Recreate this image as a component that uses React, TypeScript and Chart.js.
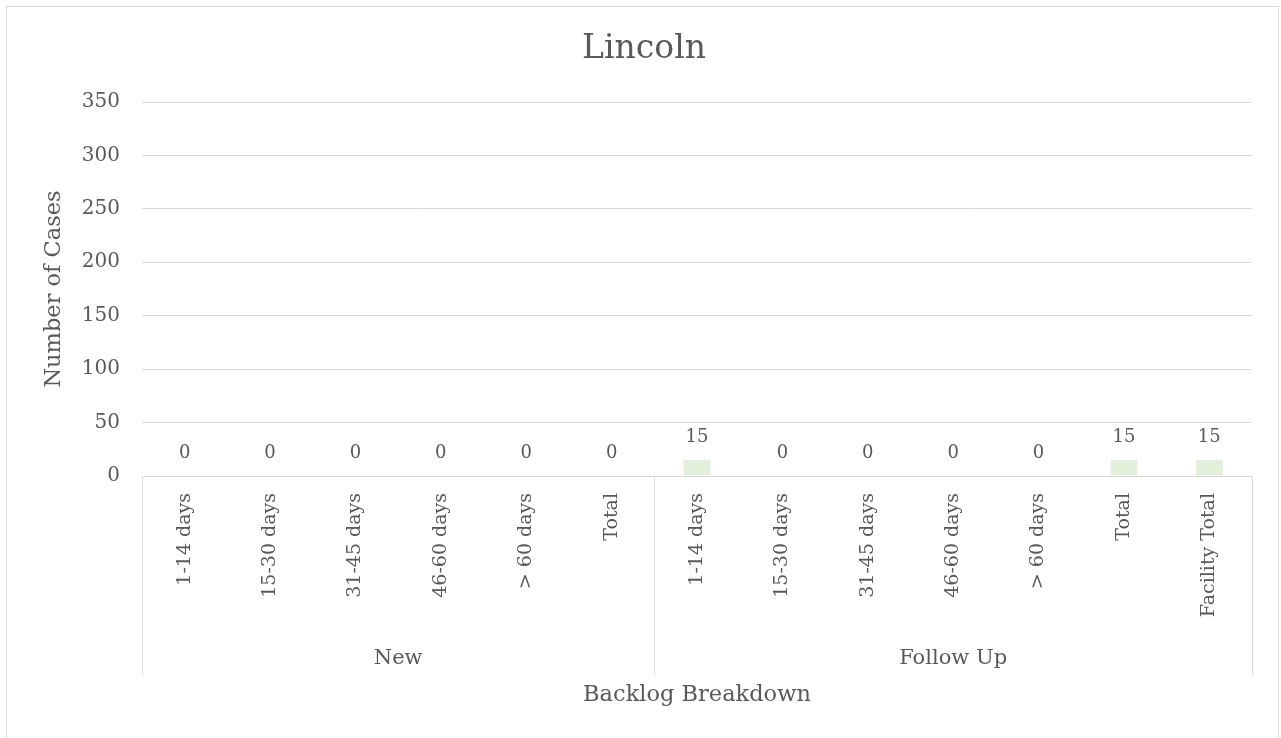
import React, { useEffect, useRef } from "react";
import { Chart, registerables } from "chart.js";

Chart.register(...registerables);

// Chart content
const chartTitle = "Lincoln";
const yAxisTitle = "Number of Cases";
const xAxisTitle = "Backlog Breakdown";

const groupNames = ["New", "Follow Up"];
const groupSizes = [6, 7];

const categories = [
  "1-14 days",
  "15-30 days",
  "31-45 days",
  "46-60 days",
  "> 60 days",
  "Total",
  "1-14 days",
  "15-30 days",
  "31-45 days",
  "46-60 days",
  "> 60 days",
  "Total",
  "Facility Total",
];

const caseCounts = [0, 0, 0, 0, 0, 0, 15, 0, 0, 0, 0, 15, 15];

const yMin = 0;
const yMax = 350;
const yStep = 50;

const FONT = '"DejaVu Serif", Georgia, serif';
const TEXT = "#595959";
const LINE = "#d9d9d9";
const BAR = "#e2efda";

const font = (size: number) => `${size}px ${FONT}`;

// Draws title, axis titles, group labels, group dividers and value labels
const decorations = {
  id: "decorations",
  afterDraw(chart: any) {
    const { ctx, chartArea, scales } = chart;
    const x = scales.x;
    ctx.save();
    ctx.fillStyle = TEXT;
    ctx.textAlign = "center";
    ctx.textBaseline = "middle";

    // chart title
    ctx.font = font(33);
    ctx.fillText(chartTitle, 644, 49);

    // y axis title
    ctx.save();
    ctx.translate(54, (chartArea.top + chartArea.bottom) / 2);
    ctx.rotate(-Math.PI / 2);
    ctx.font = font(22.5);
    ctx.fillText(yAxisTitle, 0, 0);
    ctx.restore();

    // x axis title
    ctx.font = font(22.5);
    ctx.fillText(xAxisTitle, (chartArea.left + chartArea.right) / 2, 695);

    // group dividers and group labels
    const half = (x.getPixelForValue(1) - x.getPixelForValue(0)) / 2;
    const divTop = chartArea.bottom;
    const divBottom = 675;
    ctx.strokeStyle = LINE;
    ctx.lineWidth = 1;
    let start = 0;
    const edges: number[] = [x.getPixelForValue(0) - half];
    groupSizes.forEach((n) => {
      edges.push(x.getPixelForValue(start + n - 1) + half);
      start += n;
    });
    edges.forEach((px) => {
      const p = Math.round(px) + 0.5;
      ctx.beginPath();
      ctx.moveTo(p, divTop);
      ctx.lineTo(p, divBottom);
      ctx.stroke();
    });
    ctx.font = font(21);
    groupNames.forEach((name, i) => {
      ctx.fillText(name, (edges[i] + edges[i + 1]) / 2, 659);
    });

    // value labels above bars
    const meta = chart.getDatasetMeta(0);
    ctx.font = font(18);
    meta.data.forEach((bar: any, i: number) => {
      ctx.fillText(String(caseCounts[i]), bar.x, bar.y - 23);
    });

    ctx.restore();
  },
};

export default function App() {
  const canvasRef = useRef<HTMLCanvasElement | null>(null);

  useEffect(() => {
    const canvas = canvasRef.current;
    if (!canvas) return;
    const chart = new Chart(canvas, {
      type: "bar",
      data: {
        labels: categories,
        datasets: [
          {
            data: caseCounts,
            backgroundColor: BAR,
            borderWidth: 0,
            barPercentage: 0.316,
            categoryPercentage: 1,
          },
        ],
      },
      options: {
        animation: false,
        responsive: true,
        maintainAspectRatio: false,
        layout: { padding: { top: 102, right: 29, bottom: 0, left: 0 } },
        plugins: {
          legend: { display: false },
          title: { display: false },
          tooltip: { enabled: false },
        },
        scales: {
          x: {
            type: "category",
            grid: { display: false },
            border: { display: false },
            ticks: {
              autoSkip: false,
              minRotation: 90,
              maxRotation: 90,
              padding: 9,
              color: TEXT,
              font: { family: FONT, size: 19 },
            },
            afterFit: (scale: any) => {
              scale.height = 262;
            },
          },
          y: {
            min: yMin,
            max: yMax,
            grid: { color: LINE, lineWidth: 1, drawTicks: false },
            border: { display: false },
            ticks: {
              stepSize: yStep,
              padding: 22,
              color: TEXT,
              font: { family: FONT, size: 20 },
            },
            afterFit: (scale: any) => {
              scale.width = 142;
            },
          },
        },
      },
      plugins: [decorations],
    });
    return () => chart.destroy();
  }, []);

  return (
    <div style={{ position: "fixed", left: 0, top: 0, width: 1281, height: 738, background: "#fff", overflow: "hidden" }}>
      <div
        style={{
          position: "absolute",
          left: 6,
          top: 6,
          width: 1273,
          height: 800,
          border: `1px solid ${LINE}`,
          boxSizing: "border-box",
        }}
      />
      <canvas ref={canvasRef} style={{ position: "absolute", left: 0, top: 0 }} />
    </div>
  );
}
